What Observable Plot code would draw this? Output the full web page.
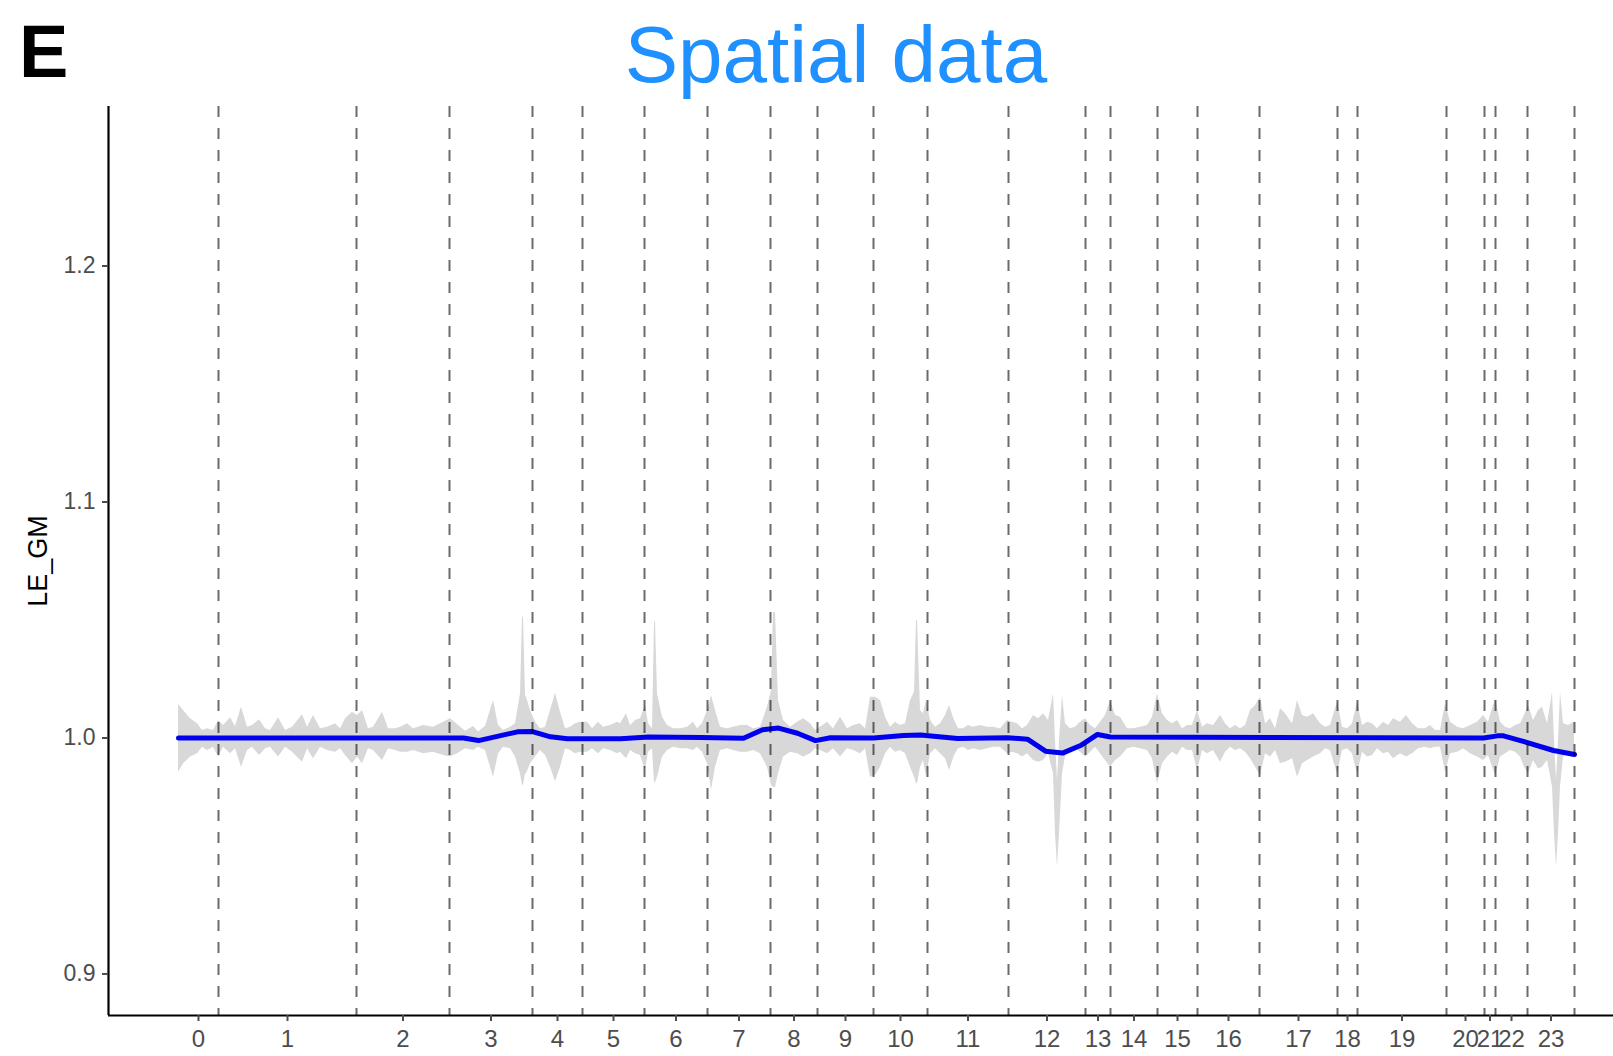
<!DOCTYPE html>
<html><head><meta charset="utf-8">
<script src="https://cdn.jsdelivr.net/npm/d3@7"></script>
<script src="https://cdn.jsdelivr.net/npm/@observablehq/plot@0.6"></script>
<style>
html,body{margin:0;padding:0;background:#fff;width:1613px;height:1056px;overflow:hidden;}
#wrap{position:relative;width:1613px;height:1056px;font-family:"Liberation Sans",Arial,sans-serif;}
#panel{position:absolute;left:19px;top:15px;font-size:74px;font-weight:bold;line-height:1;color:#000;}
#title{position:absolute;left:436px;width:800px;text-align:center;top:15px;font-size:80px;line-height:1;color:#1E90FF;}
#chart{position:absolute;left:0;top:100px;}
</style></head><body>
<div id="wrap"><div id="panel">E</div><div id="title">Spatial data</div><div id="chart"></div></div>
<script>
// segments (labels and sizes in spot units)
const segLabels = ["0","1","2","3","4","5","6","7","8","9","10","11","12","13","14","15","16","17","18","19","20","21","22","23"];
const segSizes = [40,138,93,83,50,62,63,63,47,56,54,81,77,25,47,40,62,78,20,89,38,11,32,47];
const yTicks = [0.9, 1.0, 1.1, 1.2];

// gray ribbon
const bandX = [0,5,12,19,24,29,35,40,45,52,57,63,69,74,81,87,92,100,107,114,124,129,135,142,149,157,162,167,174,179,184,190,195,204,210,217,222,229,235,245,255,265,272,279,287,295,300,307,315,320,325,332,337,342,344,345,347,348,352,357,362,367,372,377,382,387,392,397,402,409,414,420,425,432,439,442,448,452,457,462,467,470,474,476,477,479,484,489,495,502,509,515,519,524,529,533,537,542,549,555,562,569,575,582,589,593,595,597,600,605,612,619,625,632,637,642,649,655,662,669,675,682,687,692,697,702,707,712,717,722,727,732,736,738,739,742,745,748,752,757,762,767,771,776,780,785,790,795,802,809,815,822,829,834,839,844,849,855,860,865,870,875,877,879,881,884,887,892,897,902,907,912,917,922,927,932,937,942,949,955,962,969,974,979,984,989,994,999,1004,1009,1014,1019,1024,1029,1035,1042,1047,1052,1057,1062,1067,1072,1077,1082,1087,1092,1097,1102,1107,1114,1119,1124,1129,1135,1142,1147,1152,1159,1164,1169,1174,1179,1184,1189,1194,1199,1205,1210,1215,1222,1228,1234,1240,1247,1252,1257,1262,1267,1272,1279,1285,1292,1299,1305,1310,1317,1322,1327,1332,1337,1342,1346,1350,1355,1360,1364,1369,1374,1376,1378,1380,1382,1385,1390,1396];
const bandHi = [1.0142,1.0117,1.0081,1.0060,1.0032,1.0039,1.0032,1.0074,1.0053,1.0086,1.0049,1.0131,1.0046,1.0053,1.0077,1.0039,1.0032,1.0086,1.0032,1.0046,1.0098,1.0046,1.0095,1.0039,1.0046,1.0060,1.0039,1.0081,1.0109,1.0095,1.0117,1.0039,1.0046,1.0109,1.0039,1.0039,1.0046,1.0060,1.0039,1.0053,1.0046,1.0067,1.0081,1.0057,1.0029,1.0049,1.0025,1.0049,1.0159,1.0053,1.0032,1.0046,1.0060,1.0187,1.0512,1.0512,1.0180,1.0173,1.0117,1.0067,1.0039,1.0046,1.0117,1.0190,1.0109,1.0039,1.0046,1.0060,1.0067,1.0067,1.0039,1.0067,1.0046,1.0053,1.0067,1.0060,1.0103,1.0053,1.0074,1.0081,1.0138,1.0060,1.0039,1.0491,1.0491,1.0187,1.0088,1.0053,1.0039,1.0039,1.0046,1.0067,1.0039,1.0060,1.0117,1.0180,1.0117,1.0046,1.0039,1.0046,1.0053,1.0053,1.0039,1.0046,1.0131,1.0201,1.0533,1.0533,1.0159,1.0074,1.0046,1.0067,1.0081,1.0060,1.0032,1.0046,1.0067,1.0039,1.0088,1.0039,1.0053,1.0060,1.0039,1.0173,1.0173,1.0159,1.0088,1.0046,1.0067,1.0053,1.0060,1.0159,1.0194,1.0498,1.0498,1.0117,1.0103,1.0159,1.0074,1.0046,1.0060,1.0095,1.0138,1.0074,1.0039,1.0039,1.0053,1.0046,1.0053,1.0046,1.0046,1.0039,1.0074,1.0067,1.0060,1.0039,1.0053,1.0095,1.0081,1.0103,1.0074,1.0187,0.9989,0.9820,0.9989,1.0180,1.0060,1.0039,1.0046,1.0067,1.0081,1.0053,1.0039,1.0067,1.0095,1.0159,1.0095,1.0088,1.0039,1.0039,1.0046,1.0053,1.0088,1.0187,1.0103,1.0074,1.0060,1.0074,1.0039,1.0053,1.0053,1.0117,1.0046,1.0060,1.0053,1.0095,1.0060,1.0039,1.0053,1.0039,1.0053,1.0117,1.0138,1.0173,1.0060,1.0081,1.0039,1.0124,1.0103,1.0060,1.0159,1.0095,1.0088,1.0103,1.0060,1.0046,1.0053,1.0152,1.0046,1.0039,1.0060,1.0152,1.0053,1.0067,1.0060,1.0039,1.0067,1.0053,1.0081,1.0067,1.0095,1.0060,1.0039,1.0039,1.0053,1.0032,1.0032,1.0145,1.0067,1.0046,1.0039,1.0053,1.0067,1.0095,1.0067,1.0166,1.0067,1.0046,1.0039,1.0053,1.0060,1.0095,1.0138,1.0074,1.0117,1.0131,1.0060,1.0194,0.9989,0.9820,0.9989,1.0194,1.0060,1.0053,1.0067];
const bandLo = [0.9855,0.9891,0.9919,0.9933,0.9961,0.9947,0.9961,0.9919,0.9961,0.9933,0.9954,0.9876,0.9947,0.9961,0.9926,0.9954,0.9961,0.9919,0.9961,0.9940,0.9897,0.9954,0.9912,0.9961,0.9947,0.9940,0.9954,0.9926,0.9891,0.9919,0.9891,0.9954,0.9947,0.9905,0.9954,0.9947,0.9940,0.9940,0.9947,0.9933,0.9940,0.9926,0.9919,0.9933,0.9954,0.9947,0.9961,0.9947,0.9834,0.9933,0.9961,0.9954,0.9919,0.9848,0.9800,0.9800,0.9848,0.9848,0.9891,0.9919,0.9947,0.9926,0.9876,0.9815,0.9876,0.9954,0.9947,0.9933,0.9940,0.9940,0.9954,0.9933,0.9954,0.9947,0.9933,0.9940,0.9912,0.9947,0.9933,0.9926,0.9862,0.9940,0.9954,0.9810,0.9810,0.9834,0.9919,0.9947,0.9961,0.9954,0.9954,0.9947,0.9961,0.9940,0.9891,0.9780,0.9876,0.9947,0.9954,0.9947,0.9940,0.9940,0.9947,0.9933,0.9876,0.9800,0.9790,0.9790,0.9848,0.9919,0.9940,0.9933,0.9919,0.9933,0.9954,0.9947,0.9933,0.9954,0.9919,0.9954,0.9947,0.9933,0.9954,0.9834,0.9841,0.9876,0.9933,0.9961,0.9940,0.9947,0.9933,0.9876,0.9834,0.9806,0.9806,0.9876,0.9905,0.9834,0.9933,0.9954,0.9933,0.9912,0.9862,0.9926,0.9954,0.9961,0.9947,0.9954,0.9947,0.9954,0.9961,0.9961,0.9933,0.9940,0.9933,0.9919,0.9933,0.9905,0.9897,0.9905,0.9933,0.9848,0.9594,0.9453,0.9594,0.9848,0.9919,0.9947,0.9954,0.9940,0.9919,0.9940,0.9961,0.9933,0.9905,0.9876,0.9905,0.9919,0.9954,0.9961,0.9954,0.9947,0.9912,0.9806,0.9891,0.9919,0.9940,0.9926,0.9961,0.9947,0.9947,0.9862,0.9947,0.9933,0.9947,0.9897,0.9940,0.9961,0.9947,0.9954,0.9940,0.9912,0.9876,0.9841,0.9933,0.9919,0.9947,0.9891,0.9897,0.9912,0.9834,0.9891,0.9905,0.9919,0.9933,0.9954,0.9947,0.9848,0.9947,0.9954,0.9933,0.9848,0.9940,0.9919,0.9926,0.9954,0.9933,0.9940,0.9912,0.9933,0.9919,0.9933,0.9954,0.9961,0.9954,0.9961,0.9961,0.9855,0.9933,0.9940,0.9954,0.9933,0.9919,0.9905,0.9926,0.9841,0.9919,0.9933,0.9947,0.9940,0.9919,0.9876,0.9848,0.9905,0.9869,0.9876,0.9905,0.9792,0.9594,0.9453,0.9594,0.9792,0.9919,0.9940,0.9933];

// blue smoothed line
const lineX = [0,285,300,339,354,372,389,442,470,522,565,584,600,619,637,652,695,725,742,779,829,849,867,884,902,919,932,1305,1319,1325,1342,1375,1396];
const lineY = [1.0000,1.0000,0.9989,1.0026,1.0027,1.0005,0.9997,0.9997,1.0004,1.0002,0.9999,1.0035,1.0042,1.0020,0.9989,1.0001,1.0000,1.0011,1.0013,0.9998,1.0001,0.9995,0.9944,0.9936,0.9968,1.0015,1.0004,1.0000,1.0009,1.0009,0.9989,0.9947,0.9930];

let cum = 0;
const segments = segSizes.map((s, i) => { const start = cum; cum += s; return {label: segLabels[i], start, end: cum, mid: start + s / 2}; });
const midLabel = new Map(segments.map(d => [d.mid, d.label]));
const band = bandX.map((x, i) => ({x, lo: bandLo[i], hi: bandHi[i]}));
const line = lineX.map((x, i) => ({x, y: lineY[i]}));
const xMin = -70, xMax = 1435, yMin = 0.8824, yMax = 1.2676;

const chart = Plot.plot({
  width: 1613, height: 956, marginTop: 6, marginBottom: 41, marginLeft: 108, marginRight: 0,
  style: {fontFamily: "Liberation Sans, Arial, sans-serif", background: "transparent", overflow: "visible"},
  x: {domain: [xMin, xMax]},
  y: {domain: [yMin, yMax]},
  marks: [
    Plot.areaY(band, {x: "x", y1: "lo", y2: "hi", fill: "#d8d8d8"}),
    Plot.line(line, {x: "x", y: "y", stroke: "#0000ee", strokeWidth: 5, strokeLinejoin: "round"}),
    Plot.ruleX(segments, {x: "end", stroke: "#000", strokeOpacity: 0.58, strokeWidth: 2, strokeDasharray: "11,11"}),
    Plot.ruleX([xMin], {stroke: "#000", strokeWidth: 2.2}),
    Plot.ruleY([yMin], {stroke: "#000", strokeWidth: 2.2}),
    Plot.axisY(yTicks, {tickSize: 6, tickPadding: 7, tickFormat: d3.format(".1f"), fontSize: 23, color: "#4d4d4d", label: null, strokeWidth: 2}),
    Plot.axisX(segments.map(d => d.mid), {tickSize: 6, tickPadding: 8, tickFormat: d => midLabel.get(d), fontSize: 24, color: "#4d4d4d", label: null, strokeWidth: 2}),
    Plot.text(["LE_GM"], {x: xMin, y: (yMin + yMax) / 2, dx: -70, rotate: -90, fontSize: 27, fill: "#000"})
  ]
});
document.getElementById("chart").appendChild(chart);
</script></body></html>
